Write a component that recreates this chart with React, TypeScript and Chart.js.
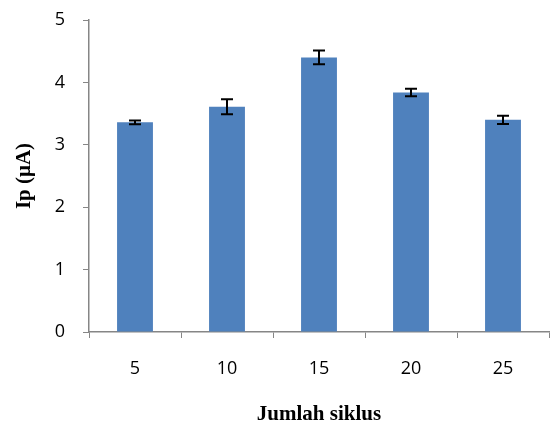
import React, { useEffect, useRef } from "react";
import { Chart, registerables } from "chart.js";

Chart.register(...registerables);

const categories = ["5", "10", "15", "20", "25"];
const values = [3.36, 3.61, 4.4, 3.84, 3.4];
const errors = [0.03, 0.12, 0.11, 0.06, 0.065];
const yTicks = [0, 1, 2, 3, 4, 5];
const xTitle = "Jumlah siklus";
const yTitle = "Ip (μA)";

const errorBarPlugin = {
  id: "errorBars",
  afterDatasetsDraw(chart: any) {
    const ctx = chart.ctx;
    const meta = chart.getDatasetMeta(0);
    const y = chart.scales.y;
    ctx.save();
    ctx.strokeStyle = "#000000";
    ctx.lineWidth = 2;
    meta.data.forEach((bar: any, i: number) => {
      const x = bar.x;
      const top = y.getPixelForValue(values[i] + errors[i]);
      const bot = y.getPixelForValue(values[i] - errors[i]);
      const cap = 6;
      ctx.beginPath();
      ctx.moveTo(x, top);
      ctx.lineTo(x, bot);
      ctx.moveTo(x - cap, top);
      ctx.lineTo(x + cap, top);
      ctx.moveTo(x - cap, bot);
      ctx.lineTo(x + cap, bot);
      ctx.stroke();
    });
    ctx.restore();
  },
};

export default function App() {
  const ref = useRef<HTMLCanvasElement | null>(null);
  useEffect(() => {
    if (!ref.current) return;
    const axisColor = "#868686";
    const chart = new Chart(ref.current, {
      type: "bar",
      data: {
        labels: categories,
        datasets: [
          {
            data: values,
            backgroundColor: "#4F81BD",
            borderWidth: 0,
            categoryPercentage: 1,
            barPercentage: 0.39,
          },
        ],
      },
      options: {
        responsive: false,
        animation: false,
        layout: { padding: { top: 20, right: 1, left: 0, bottom: 0 } },
        plugins: { legend: { display: false }, tooltip: { enabled: false } },
        scales: {
          x: {
            grid: {
              display: true,
              drawOnChartArea: false,
              drawTicks: true,
              tickLength: 6,
              color: axisColor,
              offset: true,
            },
            border: { color: axisColor, width: 1.5 },
            ticks: {
              color: "#000000",
              padding: 20,
              font: { family: "'Open Sans'", size: 18 },
            },
            title: {
              display: true,
              text: xTitle,
              color: "#000000",
              font: { family: "'Liberation Serif'", size: 21, weight: "bold", lineHeight: "18px" },
              padding: { top: 0, bottom: -1 },
            },
            afterFit(scale: any) {
              scale.height = 423 - 332;
              scale.paddingLeft = 0;
              scale.paddingRight = 0;
            },
          },
          y: {
            min: 0,
            max: 5,
            afterBuildTicks(scale: any) {
              scale.ticks = yTicks.map((v) => ({ value: v }));
            },
            grid: {
              display: true,
              drawOnChartArea: false,
              drawTicks: true,
              tickLength: 6,
              color: axisColor,
            },
            border: { color: axisColor, width: 1.5 },
            ticks: {
              color: "#000000",
              padding: 18,
              font: { family: "'Open Sans'", size: 18 },
            },
            title: {
              display: true,
              text: yTitle,
              color: "#000000",
              font: { family: "'Liberation Serif'", size: 21, weight: "bold", lineHeight: "18px" },
              padding: { top: 16, bottom: 0 },
            },
            afterFit(scale: any) {
              scale.width = 89;
              scale.paddingTop = 0;
              scale.paddingBottom = 0;
            },
          },
        },
      },
      plugins: [errorBarPlugin],
    });
    return () => chart.destroy();
  }, []);
  return (
    <div style={{ position: "fixed", left: 0, top: 0, width: 550, height: 423, background: "#fff" }}>
      <canvas ref={ref} width={550} height={423} style={{ display: "block" }} />
    </div>
  );
}
